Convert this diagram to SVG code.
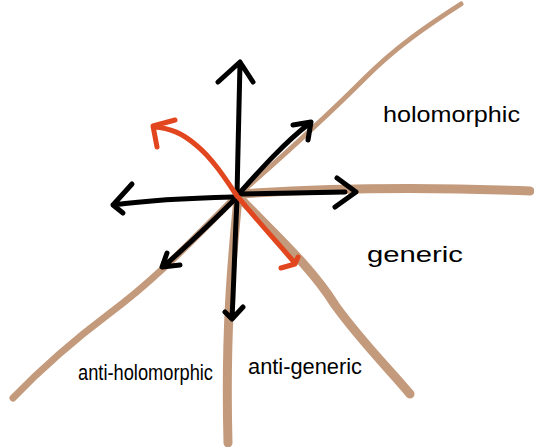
<svg xmlns="http://www.w3.org/2000/svg" width="534" height="447" viewBox="0 0 534 447">
<style>
.tan{fill:none;stroke:#C39A7C;stroke-linecap:round;stroke-linejoin:round}
.blk{fill:none;stroke:#000;stroke-width:5;stroke-linecap:round;stroke-linejoin:round}
.red{fill:none;stroke:#E2461E;stroke-width:5;stroke-linecap:round;stroke-linejoin:round}
.lbl{font-family:"Liberation Sans",Arial,sans-serif;font-size:22px;fill:#000}
</style>
<rect width="534" height="447" fill="#fff"/>
<g id="connectors">
<g id="curves">
<path class="tan" stroke-width="5" d="M461,4 C425,27 395,48 365,78 C330,113 290,150 237,196"/>
<path class="tan" stroke-width="7" d="M237,196 C200,232 160,276 110,313 C70,343 40,370 13,398"/>
<path class="tan" stroke-width="9" d="M240,194 C300,190 400,186 530,191"/>
<path class="tan" stroke-width="9" d="M238,198 C232,260 225,330 228,443"/>
<path class="tan" stroke-width="9" d="M240,198 C270,230 310,265 335,305 C360,340 390,370 410,394"/>
</g>
<g id="arrows">
<path class="blk" stroke-width="5.5" d="M237,196 C238,150 239,100 240,63 M218,82 L240,62 L253,82"/>
<path class="blk" d="M237,196 C260,170 285,142 310,123 M293,125 L311,122 L308,140"/>
<path class="blk" stroke-width="8" d="M240,194 L345,192"/>
<path class="blk" stroke-width="5.5" d="M337,178 L356,192 L335,207"/>
<path class="blk" d="M233,197 C190,198 150,200 113,205 M132,184 L113,205 L123,213"/>
<path class="blk" d="M236,198 C212,222 188,245 163,267 M167,253 L162,267 L180,265"/>
<path class="blk" stroke-width="5.5" d="M237,200 C235,240 234,280 232,318 M225,312 L232,319 L243,307"/>
<path class="red" d="M237,196 C225,178 212,158 196,145 C182,133 170,128 154,127 M175,120 L153,126 L157,147"/>
<path class="red" d="M239,198 C255,218 275,240 294,262 M298,257 L295,264 L281,268"/>
</g>
</g>
<g id="labels">
<text id="holomorphic" class="lbl" x="383" y="122" textLength="137" lengthAdjust="spacingAndGlyphs">holomorphic</text>
<text id="generic" class="lbl" x="367" y="262" font-size="24" textLength="96" lengthAdjust="spacingAndGlyphs">generic</text>
<text id="anti-holomorphic" class="lbl" x="78" y="380" textLength="135" lengthAdjust="spacingAndGlyphs">anti-holomorphic</text>
<text id="anti-generic" class="lbl" x="248" y="374" textLength="114" lengthAdjust="spacingAndGlyphs">anti-generic</text>
</g>
</svg>
